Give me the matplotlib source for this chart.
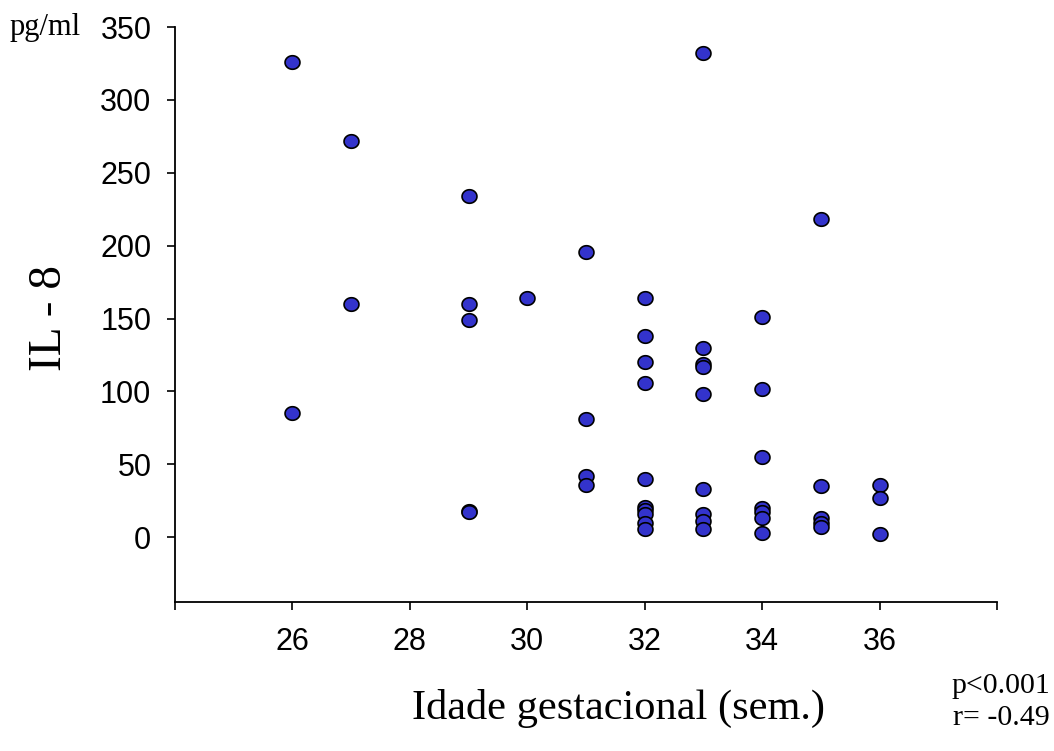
import matplotlib
matplotlib.use("Agg")
import matplotlib.pyplot as plt
import numpy as np
from matplotlib.path import Path

# data: gestational age (weeks) and IL-8 (pg/ml)
ages = [26, 26,
        27, 27,
        29, 29, 29, 29, 29,
        30,
        31, 31, 31, 31,
        32, 32, 32, 32, 32, 32, 32, 32, 32, 32,
        33, 33, 33, 33, 33, 33, 33, 33, 33,
        34, 34, 34, 34, 34, 34, 34,
        35, 35, 35, 35, 35,
        36, 36, 36]
il8 = [326, 85,
       272, 160,
       234, 160, 149, 18, 17,
       164,
       196, 81, 42, 36,
       164, 138, 120, 106, 40, 21, 19, 16, 10, 5.5,
       332, 130, 119, 117, 98, 33, 16, 11, 5.5,
       151, 102, 55, 20, 17, 13, 3,
       218, 35, 13, 10, 7,
       36, 27, 2]

xticks = [24, 26, 28, 30, 32, 34, 36, 38]
xticklabels = ["", "26", "28", "30", "32", "34", "36", ""]
yticks = [0, 50, 100, 150, 200, 250, 300, 350]

plt.rcParams['font.family'] = ['Liberation Sans', 'DejaVu Sans']

# slightly wide elliptical marker
t = np.linspace(0, 2 * np.pi, 60)
ellipse = Path(np.column_stack([1.1 * np.cos(t), np.sin(t)]), closed=True)

fig = plt.figure(figsize=(10.54, 7.51), dpi=100)
ax = fig.add_axes([0.166, 0.198, 0.780, 0.766])

ax.scatter(ages, il8, s=115, marker=ellipse, facecolor='#3333CC',
           edgecolor='black', linewidth=1.2, zorder=3, clip_on=False)

ax.set_xlim(24, 38)
ax.set_ylim(-44.6, 350)
ax.set_xticks(xticks)
ax.set_xticklabels(xticklabels)
ax.set_yticks(yticks)
ax.tick_params(axis='both', direction='out', length=6, width=1.2,
               labelsize=22)
ax.tick_params(axis='y', pad=11)
ax.tick_params(axis='x', pad=12)
ax.spines['top'].set_visible(False)
ax.spines['right'].set_visible(False)
ax.spines['left'].set_linewidth(1.3)
ax.spines['bottom'].set_linewidth(1.3)

serif = ['Liberation Serif', 'DejaVu Serif']
fig.text(50/1054, 1 - 318/751, "IL - 8", rotation=90, family=serif,
         fontsize=34, ha='center', va='center')
fig.text(619/1054, 1 - 708/751, "Idade gestacional (sem.)", family=serif,
         fontsize=30.5, ha='center', va='center')
fig.text(10/1054, 1 - 27/751, "pg/ml", family=serif, fontsize=22,
         ha='left', va='center')
fig.text(1050/1054, 1 - 686/751, "p<0.001", family=serif, fontsize=21.5,
         ha='right', va='center')
fig.text(1050/1054, 1 - 718/751, "r= -0.49", family=serif, fontsize=21.5,
         ha='right', va='center')

fig.savefig("out.png", dpi=100)
